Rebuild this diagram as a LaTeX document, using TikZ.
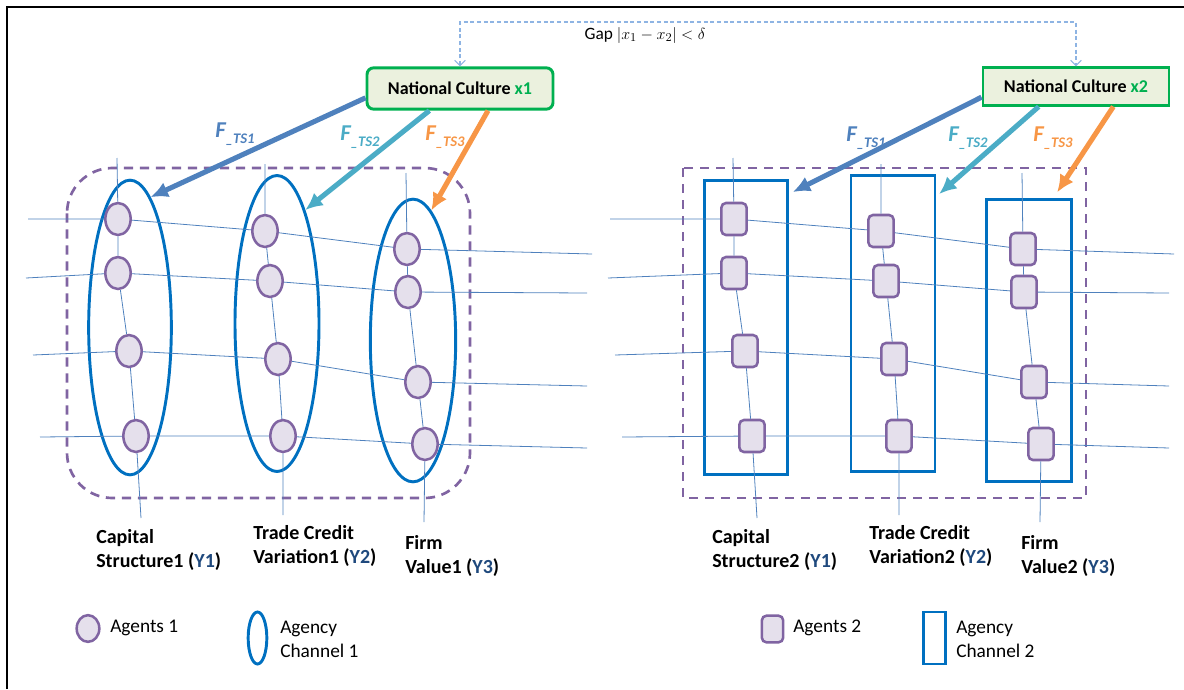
\documentclass[tikz,border=0pt]{standalone}
\usepackage{fontspec}
\setmainfont{Carlito}
\usetikzlibrary{arrows.meta, shapes.geometric}

\definecolor{ncgreen}{HTML}{00B050}
\definecolor{ncfill}{HTML}{EBF1DE}
\definecolor{agline}{HTML}{8064A2}
\definecolor{agfill}{HTML}{E5E0EC}
\definecolor{chblue}{HTML}{0070C0}
\definecolor{thr}{HTML}{4F81BD}
\definecolor{fone}{HTML}{4F81BD}
\definecolor{ftwo}{HTML}{4BACC6}
\definecolor{fthree}{HTML}{F79646}
\definecolor{ydark}{HTML}{1F497D}
\definecolor{gapblue}{HTML}{8EB4E3}

\newcommand{\fts}[1]{F\raisebox{-0.55ex}{\fontsize{11}{11}\selectfont\_TS#1}}
\newcommand{\ylab}[1]{(\textcolor{ydark}{Y#1})}

\begin{document}
\begin{tikzpicture}[x=0.75pt, y=-0.75pt, >={Latex[length=13pt,width=12pt]},
  nc/.style={draw=ncgreen, fill=ncfill, line width=2.2pt, inner sep=0pt, font=\fontsize{13.5}{16}\selectfont\bfseries},
  agcirc/.style={ellipse, draw=agline, fill=agfill, line width=1.9pt, minimum width=19pt, minimum height=24pt, inner sep=0pt},
  agbox/.style={rectangle, rounded corners=3.5pt, draw=agline, fill=agfill, line width=1.9pt, minimum width=19pt, minimum height=24pt, inner sep=0pt},
  chell/.style={ellipse, draw=chblue, line width=2.2pt, inner sep=0pt},
  chbox/.style={rectangle, draw=chblue, line width=2.2pt, inner sep=0pt},
  thread/.style={draw=thr, line width=0.6pt},
  grp/.style={draw=agline, line width=2pt, dash pattern=on 7pt off 5pt},
  grpl/.style={grp, rounded corners=34pt},
  grpr/.style={grp},
  farrow/.style={->, line width=3.8pt},
  flab/.style={inner sep=0pt, font=\fontsize{17}{17}\selectfont\bfseries\itshape},
  ylabel/.style={anchor=north west, align=left, inner sep=0pt, font=\fontsize{15}{18.5}\selectfont\bfseries},
  keytext/.style={inner sep=0pt, font=\fontsize{14.5}{18}\selectfont},
  gapline/.style={draw=gapblue, line width=0.8pt, dash pattern=on 3pt off 2pt, {Straight Barb[length=4pt,width=8pt]}-{Straight Barb[length=4pt,width=8pt]}},
  gaptext/.style={inner sep=0pt, font=\fontsize{13}{15}\selectfont}]

\useasboundingbox (0,0) rectangle (1184,689);

% frame
\draw[line width=1.5pt] (6.5,689) -- (6.5,7) -- (1184,7);

% national culture
\node[nc, rounded corners=5pt, minimum width=139.5pt, minimum height=31pt] (nc1) at (460,88.5) {National Culture \textcolor{ncgreen}{x1}};
\node[nc, minimum width=139.5pt, minimum height=28pt] (nc2) at (1076,86.5) {National Culture \textcolor{ncgreen}{x2}};

\coordinate (gapmid) at (768,22);
\draw[gapline] (nc1.north) |- (gapmid) -| (nc2.north);
\node[gaptext] (gap) at (645,35) {Gap $|x_1-x_2|<\delta$};

% the two panels
\foreach \p/\dx/\ag/\ch/\grp/\hs/\n in {l/0/agcirc/chell/grpl/0/1, r/616/agbox/chbox/grpr/-34/2}
{
\begin{scope}[shift={(\dx,0)}]
\draw[\grp] (67,168) rectangle (470,498);

% agency channels
\node[\ch, minimum width=62pt, minimum height=221pt] (\p ch1) at (130,327.5) {};
\node[\ch, minimum width=63pt, minimum height=222pt] (\p ch2) at (277,323.5) {};
\node[\ch, minimum width=64pt, minimum height=212pt] (\p ch3) at (413,340.5) {};

% agents
\node[\ag] (\p a11) at (118,219) {};
\node[\ag] (\p a12) at (118,273) {};
\node[\ag] (\p a13) at (129,351) {};
\node[\ag] (\p a14) at (136,436) {};
\node[\ag] (\p a21) at (265,231) {};
\node[\ag] (\p a22) at (270,281) {};
\node[\ag] (\p a23) at (278,359) {};
\node[\ag] (\p a24) at (283,436) {};
\node[\ag] (\p a31) at (407,249) {};
\node[\ag] (\p a32) at (408,292) {};
\node[\ag] (\p a33) at (418,382) {};
\node[\ag] (\p a34) at (425,444) {};

% thread ends
\coordinate (\p v1t) at (117,158);
\coordinate (\p v1b) at (141,518);
\coordinate (\p v2t) at (265,164);
\coordinate (\p v2b) at (283,515);
\coordinate (\p v3t) at (406,173);
\coordinate (\p v3b) at (424,522);
\coordinate (\p h1s) at ({28+\hs},219);
\coordinate (\p h1e) at ({592+\hs},254);
\coordinate (\p h2s) at ({26+\hs},278);
\coordinate (\p h2e) at ({587+\hs},293);
\coordinate (\p h3s) at ({33+\hs},355);
\coordinate (\p h3e) at ({587+\hs},386);
\coordinate (\p h4s) at ({40+\hs},437);
\coordinate (\p h4e) at ({587+\hs},448);

\draw[thread] (\p v1t) -- (\p a11) -- (\p a12) -- (\p a13) -- (\p a14) -- (\p v1b);
\draw[thread] (\p v2t) -- (\p a21) -- (\p a22) -- (\p a23) -- (\p a24) -- (\p v2b);
\draw[thread] (\p v3t) -- (\p a31) -- (\p a32) -- (\p a33) -- (\p a34) -- (\p v3b);
\draw[thread] (\p h1s) -- (\p a11) -- (\p a21) -- (\p a31) -- (\p h1e);
\draw[thread] (\p h2s) -- (\p a12) -- (\p a22) -- (\p a32) -- (\p h2e);
\draw[thread] (\p h3s) -- (\p a13) -- (\p a23) -- (\p a33) -- (\p h3e);
\draw[thread] (\p h4s) -- (\p a14) -- (\p a24) -- (\p a34) -- (\p h4e);

% outcome labels
\node[ylabel] (\p lab1) at (96,529) {Capital\\Structure\n{} \ylab{1}};
\node[ylabel] (\p lab2) at (253,525) {Trade Credit\\Variation\n{} \ylab{2}};
\node[ylabel] (\p lab3) at (405,535) {Firm\\Value\n{} \ylab{3}};
\end{scope}
};

% transmission arrows
\draw[farrow, fone] ([yshift=-7pt]nc1.west) -- (lch1.81);
\draw[farrow, ftwo] ([xshift=-23pt]nc1.south) -- (lch2.76);
\draw[farrow, fthree] ([xshift=21pt]nc1.south) -- (lch3.82);
\draw[farrow, fone] ([yshift=-8pt]nc2.west) -- ([shift={(3pt,-10pt)}]rch1.north east);
\draw[farrow, ftwo] ([xshift=-28pt]nc2.south) -- ([shift={(2pt,-15pt)}]rch2.north east);
\draw[farrow, fthree] ([xshift=28pt]nc2.south) -- ([shift={(-12pt,4pt)}]rch3.north east);

\node[flab, text=fone] (lf1) at (235,134) {\fts{1}};
\node[flab, text=ftwo] (lf2) at (360,137) {\fts{2}};
\node[flab, text=fthree] (lf3) at (445,137) {\fts{3}};
\node[flab, text=fone] (rf1) at (866,138) {\fts{1}};
\node[flab, text=ftwo] (rf2) at (968,138) {\fts{2}};
\node[flab, text=fthree] (rf3) at (1053,138) {\fts{3}};

% legend
\node[agcirc, minimum width=17pt, minimum height=20pt] (lkey1) at (88,628.5) {};
\node[keytext, anchor=west] (lkeyt1) at (110,628) {Agents 1};
\node[chell, minimum width=14pt, minimum height=39pt] (lkey2) at (257.5,638) {};
\node[keytext, anchor=west, align=left] (lkeyt2) at (280,639) {Agency\\Channel 1};
\node[agbox, minimum width=16pt, minimum height=20pt] (rkey1) at (772.5,629) {};
\node[keytext, anchor=west] (rkeyt1) at (793,628) {Agents 2};
\node[chbox, minimum width=16pt, minimum height=39pt] (rkey2) at (934.5,638) {};
\node[keytext, anchor=west, align=left] (rkeyt2) at (956,639) {Agency\\Channel 2};

\end{tikzpicture}
\end{document}
